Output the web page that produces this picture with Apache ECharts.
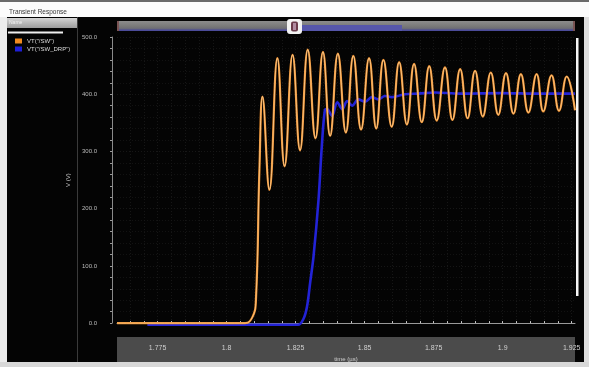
<!DOCTYPE html>
<html>
<head>
<meta charset="utf-8">
<script src="https://cdn.jsdelivr.net/npm/echarts@6/dist/echarts.min.js"></script>
<style>
html,body{margin:0;padding:0;background:#f0f0f0;}
#c{width:589px;height:367px;}
</style>
</head>
<body>
<div id="c"></div>
<script>
// ---- data ----
const seriesNames = ['VT("/SW")', 'VT("/SW_DRP")'];
const xTickLabels = [1.775, 1.8, 1.825, 1.85, 1.875, 1.9, 1.925];
const xGridTicks = [1.765, 1.77, 1.775, 1.78, 1.785, 1.79, 1.795, 1.8, 1.805, 1.81, 1.815, 1.82, 1.825, 1.83, 1.835, 1.84, 1.845, 1.85, 1.855, 1.86, 1.865, 1.87, 1.875, 1.88, 1.885, 1.89, 1.895, 1.9, 1.905, 1.91, 1.915, 1.92, 1.925];
const yTickLabels = [0, 100, 200, 300, 400, 500];

const swTime = [1.7603, 1.8067, 1.8093, 1.8106, 1.8119, 1.8130, 1.8155, 1.8184, 1.8210, 1.8239, 1.8266, 1.8294, 1.8322, 1.8349, 1.8375, 1.8403, 1.8432, 1.8459, 1.8487, 1.8516, 1.8542, 1.8568, 1.8598, 1.8625, 1.8653, 1.8679, 1.8707, 1.8734, 1.8761, 1.8791, 1.8818, 1.8846, 1.8873, 1.8900, 1.8928, 1.8957, 1.8984, 1.9012, 1.9039, 1.9066, 1.9093, 1.9123, 1.9147, 1.9177, 1.9204, 1.9232, 1.9262];
const swVolt = [0, 0, 10, 38, 270, 396, 233, 463, 274, 469, 302, 478, 323, 474, 327, 471, 333, 467, 338, 463, 340, 460, 343, 456, 347, 453, 351, 449, 354, 447, 355, 444, 358, 441, 361, 438, 364, 437, 366, 435, 368, 435, 370, 433, 371, 431, 372];

const drpTime = [1.7713, 1.8259, 1.8279, 1.8291, 1.8303, 1.8315, 1.8333, 1.8345, 1.8356, 1.8364, 1.8382, 1.8401, 1.8419, 1.8437, 1.8455, 1.8477, 1.8502, 1.8526, 1.8549, 1.8574, 1.8599, 1.8646, 1.8694, 1.8755, 1.8846, 1.8990, 1.9135, 1.9262];
const drpVolt = [-3, -3, 8, 28, 72, 117, 216, 310, 372, 374, 362, 386, 374, 388, 380, 391, 387, 395, 391, 397, 395, 400, 401, 403, 401, 402, 401, 401];

const xMin = 1.7603, xMax = 1.9262;
const yMin = 0, yMax = 500, yStep = 100;

const swData = swTime.map((t, i) => [t, swVolt[i]]);
const drpData = drpTime.map((t, i) => [t, drpVolt[i]]);

const FONT = 'Liberation Sans, Arial, sans-serif';
const chart = echarts.init(document.getElementById('c'), null, {renderer: 'canvas'});

chart.setOption({
  backgroundColor: '#ececec',
  animation: false,
  textStyle: {fontFamily: FONT},
  grid: {left: 117, right: 14, top: 37, bottom: 43, containLabel: false},
  legend: {
    data: seriesNames,
    orient: 'vertical',
    left: 15, top: 38, padding: 0,
    icon: 'rect',
    itemWidth: 7, itemHeight: 5, itemGap: 2,
    textStyle: {color: '#dcdcdc', fontSize: 6, fontFamily: FONT},
    selectedMode: false
  },
  xAxis: {
    type: 'value',
    min: xMin, max: xMax,
    offset: 14,
    name: 'time (µs)',
    nameLocation: 'middle',
    nameGap: 14,
    nameTextStyle: {color: '#cfcfcf', fontSize: 6},
    axisLine: {show: true, lineStyle: {color: '#9a9a9a', width: 1}},
    axisTick: {show: true, customValues: xGridTicks, length: 2, inside: true, lineStyle: {color: '#c8c8c8'}},
    axisLabel: {customValues: xTickLabels, color: '#d0d0d0', fontSize: 7, margin: 7,
      formatter: v => String(+(+v).toFixed(3))},
    splitLine: {show: true, lineStyle: {color: '#161616', width: 1, type: [1, 2]}},
    minorTick: {show: false}
  },
  yAxis: {
    type: 'value',
    min: yMin, max: yMax, interval: yStep,
    offset: 5,
    name: 'V (V)',
    nameLocation: 'middle',
    nameRotate: 90,
    nameGap: 27,
    nameTextStyle: {color: '#cfcfcf', fontSize: 6},
    axisLine: {show: true, lineStyle: {color: '#8a8a8a', width: 1}},
    axisTick: {show: true, length: 2, lineStyle: {color: '#9a9a9a'}},
    minorTick: {show: true, splitNumber: 5, length: 2, lineStyle: {color: '#9a9a9a'}},
    axisLabel: {color: '#bdbdbd', fontSize: 6, margin: 15, formatter: v => v.toFixed(1)},
    splitLine: {show: true, lineStyle: {color: '#161616', width: 1, type: [1, 2]}},
    minorSplitLine: {show: true, lineStyle: {color: '#121212', width: 1, type: [1, 2]}}
  },
  graphic: {
    elements: [
      {type: 'rect', z: -20, shape: {x: 0, y: 0, width: 589, height: 2}, style: {fill: '#6a6a6a'}},
      {type: 'rect', z: -20, shape: {x: 0, y: 2, width: 589, height: 15}, style: {fill: '#fbfbfb'}},
      {type: 'text', z: -19, style: {x: 9, y: 12, text: 'Transient Response', fill: '#3a3a3a', fontSize: 6.5, fontFamily: FONT, verticalAlign: 'middle'}},
      {type: 'rect', z: -20, shape: {x: 7, y: 17, width: 577, height: 345}, style: {fill: '#040404'}},
      {type: 'rect', z: -19, shape: {x: 7, y: 18, width: 70, height: 10},
        style: {fill: new echarts.graphic.LinearGradient(0, 0, 0, 1, [{offset: 0, color: '#d4d4d4'}, {offset: 1, color: '#9c9c9c'}])}},
      {type: 'text', z: -18, style: {x: 9, y: 23, text: 'Name', fill: '#f0f0f0', fontSize: 5, fontFamily: FONT, verticalAlign: 'middle'}},
      {type: 'rect', z: -19, shape: {x: 8, y: 31.5, width: 55, height: 2}, style: {fill: '#efefef'}},
      {type: 'line', z: -19, shape: {x1: 77.5, y1: 17, x2: 77.5, y2: 362}, style: {stroke: '#3a3a3a', lineWidth: 1}},
      // top scrollbar
      {type: 'rect', z: -19, shape: {x: 117, y: 21, width: 458, height: 10},
        style: {fill: new echarts.graphic.LinearGradient(0, 0, 0, 1, [{offset: 0, color: '#8c8c8c'}, {offset: 0.6, color: '#767676'}, {offset: 1, color: '#5a5a7a'}])}},
      {type: 'rect', z: -18, shape: {x: 117, y: 29.5, width: 458, height: 1.5}, style: {fill: '#4c4c9a'}},
      {type: 'rect', z: -18, shape: {x: 302, y: 25, width: 100, height: 6}, style: {fill: '#5656aa'}},
      {type: 'rect', z: -18, shape: {x: 117, y: 21, width: 2, height: 10}, style: {fill: '#7a5454'}},
      {type: 'rect', z: -18, shape: {x: 573, y: 21, width: 2, height: 10}, style: {fill: '#7a5454'}},
      {type: 'rect', z: -17, shape: {x: 287, y: 19, width: 15, height: 15, r: 3}, style: {fill: '#f2f2f2'}},
      {type: 'rect', z: -16, shape: {x: 291, y: 21.5, width: 7, height: 10, r: 2}, style: {fill: '#6a3a4a'}},
      {type: 'rect', z: -15, shape: {x: 293, y: 23, width: 3, height: 7}, style: {fill: '#b08aa0'}},
      // x axis band
      {type: 'rect', z: -19, shape: {x: 117, y: 337, width: 458, height: 25}, style: {fill: '#4b4b4b'}},
      {type: 'rect', z: -20, shape: {x: 0, y: 362, width: 589, height: 5}, style: {fill: '#d8d8d8'}},
      {type: 'rect', z: -20, shape: {x: 584, y: 17, width: 5, height: 345}, style: {fill: '#dedede'}},
      // right white bar
      {type: 'rect', z: -19, shape: {x: 576, y: 38, width: 2.5, height: 258}, style: {fill: '#f6f6f6'}}
    ]
  },
  series: [
    {
      name: seriesNames[1], type: 'line', data: drpData,
      showSymbol: false, smooth: 0.35, clip: false,
      lineStyle: {color: '#2323d6', width: 2.6}, itemStyle: {color: '#1f1fd8'}, z: 2
    },
    {
      name: seriesNames[0], type: 'line', data: swData,
      showSymbol: false, smooth: 0.45, clip: false,
      lineStyle: {color: '#ec8e2c', width: 2.2}, itemStyle: {color: '#f08a20'}, z: 3
    },
    {
      name: 'sw-core', type: 'line', data: swData, silent: true,
      showSymbol: false, smooth: 0.45, clip: false,
      lineStyle: {color: '#ffd6a0', width: 0.7}, z: 4
    }
  ]
});
</script>
</body>
</html>
